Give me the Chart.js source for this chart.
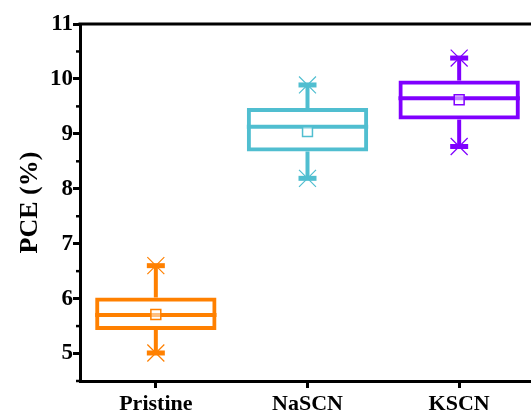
<!DOCTYPE html>
<html>
<head>
<meta charset="utf-8">
<script src="https://cdn.jsdelivr.net/npm/chart.js@4/dist/chart.umd.min.js"></script>
<style>
    html, body { margin: 0; padding: 0; overflow: hidden; background: #fff; }
    #pceChart { display: block; }
</style>
</head>
<body>
<canvas id="pceChart" width="549" height="416"></canvas>
<script>
// values
const groups = ['Pristine', 'NaSCN', 'KSCN'];
const maxVals = [6.60, 9.89, 10.38];
const q3Vals = [6.02, 9.47, 9.97];
const medianVals = [5.70, 9.13, 9.65];
const meanVals = [5.71, 9.04, 9.62];
const q1Vals = [5.43, 8.68, 9.26];
const minVals = [5.01, 8.19, 8.77];

const yTicks = [5, 6, 7, 8, 9, 10, 11];
const yMinor = [4.5, 5.5, 6.5, 7.5, 8.5, 9.5, 10.5];

const colors = ['rgb(255,128,0)', 'rgb(80,190,208)', 'rgb(128,0,255)'];

const serif = "'Liberation Serif', 'Times New Roman', serif";

// median line across each box, placed with the chart's own scales
const medianPlugin = {
    id: 'median',
    beforeDatasetsDraw(chart) {
        const ctx = chart.ctx;
        const y = chart.scales.y;
        const boxes = chart.getDatasetMeta(0).data;
        ctx.save();
        ctx.lineWidth = 4;
        medianVals.forEach((m, i) => {
            const bar = boxes[i];
            const py = y.getPixelForValue(m);
            ctx.strokeStyle = colors[i];
            ctx.beginPath();
            ctx.moveTo(bar.x - bar.width / 2, py);
            ctx.lineTo(bar.x + bar.width / 2, py);
            ctx.stroke();
        });
        ctx.restore();
    }
};

// top frame line + short minor ticks on the y axis
const framePlugin = {
    id: 'frame',
    afterDraw(chart) {
        const ctx = chart.ctx;
        const area = chart.chartArea;
        const y = chart.scales.y;
        ctx.save();
        ctx.strokeStyle = '#000';
        ctx.lineWidth = 3;
        ctx.beginPath();
        ctx.moveTo(area.left - 1.5, area.top);
        ctx.lineTo(area.right + 2, area.top);
        ctx.stroke();
        ctx.lineWidth = 2.5;
        yMinor.forEach(v => {
            const py = y.getPixelForValue(v);
            ctx.beginPath();
            ctx.moveTo(area.left - 4, py);
            ctx.lineTo(area.left, py);
            ctx.stroke();
        });
        ctx.restore();
    }
};

const ctx = document.getElementById('pceChart').getContext('2d');

new Chart(ctx, {
    type: 'bar',
    data: {
        labels: groups,
        datasets: [
            {
                // box q1..q3
                data: groups.map((g, i) => [q1Vals[i], q3Vals[i]]),
                backgroundColor: 'rgba(0,0,0,0)',
                borderColor: colors,
                borderWidth: 4,
                borderSkipped: false,
                inflateAmount: 0,
                barPercentage: 0.8,
                categoryPercentage: 1,
                grouped: false,
                order: 6
            },
            {
                // upper whisker
                data: groups.map((g, i) => [q3Vals[i], maxVals[i]]),
                backgroundColor: colors,
                borderWidth: 0,
                barThickness: 4,
                inflateAmount: 0,
                grouped: false,
                order: 7
            },
            {
                // lower whisker
                data: groups.map((g, i) => [minVals[i], q1Vals[i]]),
                backgroundColor: colors,
                borderWidth: 0,
                barThickness: 4,
                inflateAmount: 0,
                grouped: false,
                order: 7
            },
            {
                // caps at max and min
                type: 'line',
                data: maxVals,
                showLine: false,
                pointStyle: 'line',
                pointRadius: 9,
                pointBorderWidth: 5,
                pointBorderColor: colors,
                order: 4
            },
            {
                type: 'line',
                data: minVals,
                showLine: false,
                pointStyle: 'line',
                pointRadius: 9,
                pointBorderWidth: 5,
                pointBorderColor: colors,
                order: 4
            },
            {
                // asterisks at max and min
                type: 'line',
                data: maxVals,
                showLine: false,
                pointStyle: 'crossRot',
                pointRadius: 12,
                pointBorderWidth: 1.2,
                pointBorderColor: colors,
                order: 3
            },
            {
                type: 'line',
                data: minVals,
                showLine: false,
                pointStyle: 'crossRot',
                pointRadius: 12,
                pointBorderWidth: 1.2,
                pointBorderColor: colors,
                order: 3
            },
            {
                // mean
                type: 'line',
                data: meanVals,
                showLine: false,
                pointStyle: 'rect',
                pointRadius: 7,
                pointBorderWidth: 1.5,
                pointBorderColor: colors,
                pointBackgroundColor: 'rgba(255,255,255,0.5)',
                order: 1
            }
        ]
    },
    options: {
        responsive: false,
        animation: false,
        events: [],
        layout: { padding: { top: 24, right: 4, left: 0, bottom: 0 } },
        plugins: {
            legend: { display: false },
            tooltip: { enabled: false }
        },
        scales: {
            x: {
                type: 'category',
                offset: true,
                afterFit(scale) { scale.height = 35; },
                border: { display: true, color: '#000', width: 3 },
                grid: {
                    offset: false,
                    drawOnChartArea: false,
                    drawTicks: true,
                    tickLength: 7,
                    tickWidth: 3,
                    tickColor: '#000'
                },
                ticks: {
                    color: '#000',
                    padding: 3,
                    maxRotation: 0,
                    font: { family: serif, size: 22, weight: 'bold' }
                }
            },
            y: {
                min: 4.5,
                max: 11,
                afterFit(scale) { scale.width = 80; },
                afterBuildTicks(scale) {
                    scale.ticks = yTicks.map(v => ({ value: v }));
                },
                border: { display: true, color: '#000', width: 3 },
                grid: {
                    drawOnChartArea: false,
                    drawTicks: true,
                    tickLength: 7,
                    tickWidth: 3,
                    tickColor: '#000'
                },
                ticks: {
                    color: '#000',
                    padding: 0,
                    font: { family: serif, size: 23, weight: 'bold' }
                },
                title: {
                    display: true,
                    text: 'PCE (%)',
                    color: '#000',
                    padding: { top: 15, bottom: 0 },
                    font: { family: serif, size: 26, weight: 'bold' }
                }
            }
        }
    },
    plugins: [medianPlugin, framePlugin]
});
</script>
</body>
</html>
